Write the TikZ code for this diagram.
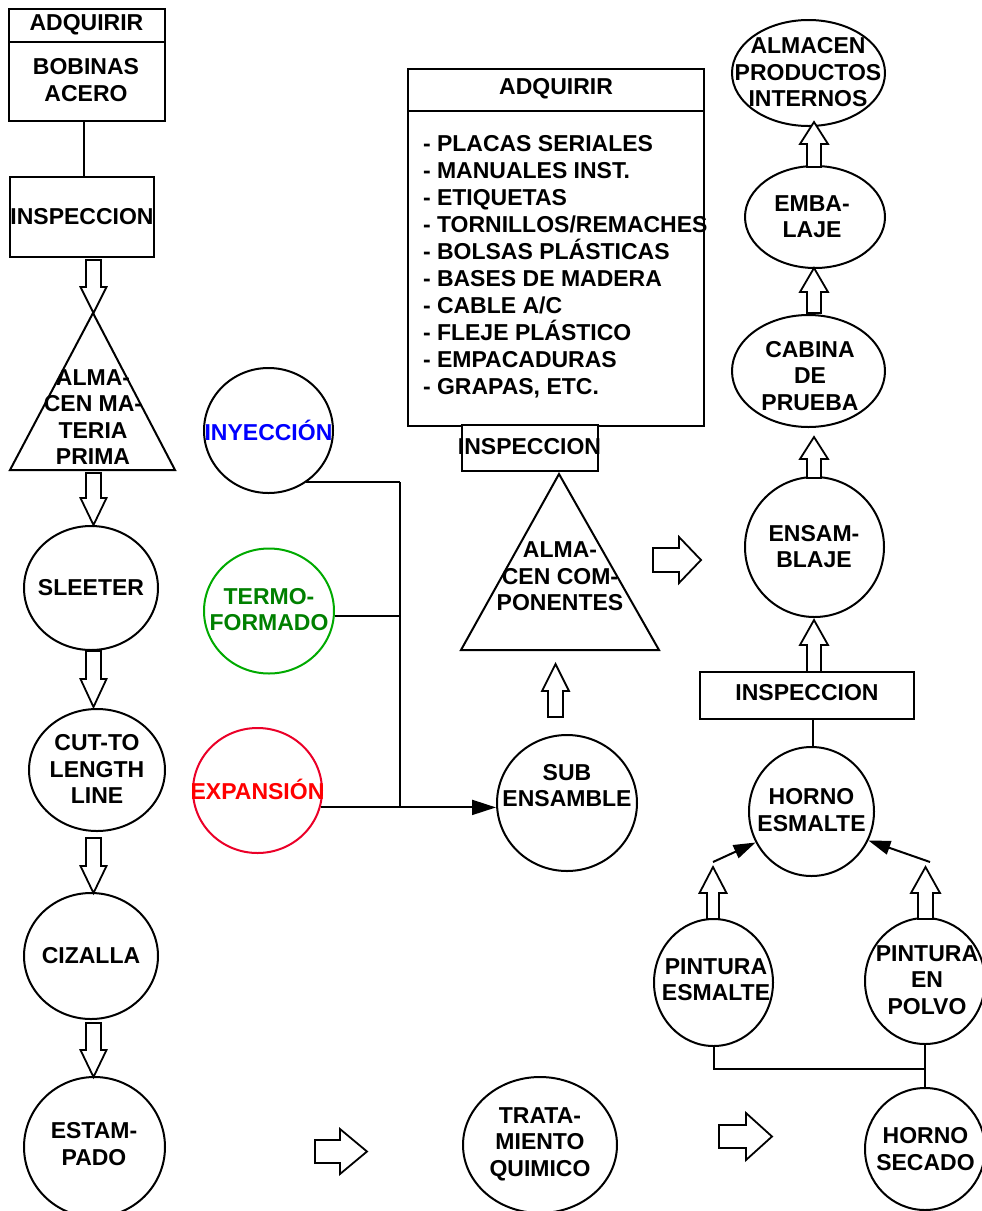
\documentclass[tikz,border=0pt]{standalone}
\usepackage{fontspec}
\setmainfont{Liberation Sans}
\usetikzlibrary{arrows.meta,shapes.geometric}
\definecolor{inyblue}{RGB}{0,0,255}
\definecolor{termotext}{RGB}{0,128,0}
\definecolor{termoline}{RGB}{0,170,0}
\definecolor{exptext}{RGB}{255,0,0}
\definecolor{expline}{RGB}{235,0,40}
\begin{document}
\begin{tikzpicture}[x=1pt,y=-1pt,line width=2pt,
  lbl/.style={font=\fontsize{23}{26.5}\selectfont\bfseries, align=center, inner sep=0pt},
  listlbl/.style={font=\fontsize{23}{27}\selectfont\bfseries, align=left, inner sep=0pt, anchor=west},
  ell/.style 2 args={draw, ellipse, inner sep=0pt, minimum width=#1, minimum height=#2},
  box/.style 2 args={draw, rectangle, inner sep=0pt, minimum width=#1, minimum height=#2},
  tip/.style={-{Triangle[length=24pt,width=15pt]}},
  pics/barrow/.style args={#1/#2/#3/#4}{code={
    \draw[line width=1.8pt, fill=white] (0,{-#2}) -- ({#1-#4},{-#2}) -- ({#1-#4},{-#3}) -- (#1,0)
      -- ({#1-#4},#3) -- ({#1-#4},#2) -- (0,#2) -- cycle;}}
]
\fill[white] (0,0) rectangle (982,1211);
\useasboundingbox (0,0) rectangle (982,1211);

% ---------- left column ----------
\node[box={156}{112}] (adq) at (86.5,64.5) {};
\draw (8.5,42) -- (164.5,42);
\node[lbl] (adqh) at (86.5,25) {ADQUIRIR};
\node[lbl] (adqt) at (86,80) {BOBINAS\\ACERO};

\node[box={144}{80}] (insp1) at (82,217) {};
\node[lbl] (insp1t) at (82,217) {INSPECCION};
\draw ([xshift=-2.5pt]adq.south) -- ([xshift=-2.5pt]adq.south |- insp1.north);

\coordinate (t1a) at (93,313);
\coordinate (t1b) at (175,470);
\coordinate (t1c) at (10,470);
\draw[line join=miter] (t1a) -- (t1b) -- (t1c) -- cycle;
\node[lbl] (t1t) at (93,417) {ALMA-\\CEN MA-\\TERIA\\PRIMA};

\node[ell={134}{124}] (sleeter) at (91,588) {};
\node[lbl] (sleetert) at (91,588) {SLEETER};
\node[ell={136}{122}] (cut) at (97,770) {};
\node[lbl] (cutt) at (97,769) {CUT-TO\\LENGTH\\LINE};
\node[ell={134}{126}] (ciz) at (91,956) {};
\node[lbl] (cizt) at (91,956) {CIZALLA};
\node[ell={141}{140}] (estam) at (94.5,1147) {};
\node[lbl] (estamt) at (94,1144) {ESTAM-\\PADO};

\pic[rotate=-90] at (93.5,260) {barrow=53/7.5/13/26};
\pic[rotate=-90] at (93.5,473) {barrow=52/7.5/13/27};
\pic[rotate=-90] at (93.5,651) {barrow=56/7.5/13/28};
\pic[rotate=-90] at (93.5,838) {barrow=55/7.5/13/27};
\pic[rotate=-90] at (93.5,1023) {barrow=54/7.5/13/27};

% ---------- middle column ----------
\node[ell={129}{125}] (iny) at (268.5,430.5) {};
\node[lbl, text=inyblue] (inyt) at (268.5,430) {INYECCIÓN};
\node[ell={130}{125}, draw=termoline] (termo) at (269,611) {};
\node[lbl, text=termotext] (termot) at (269,609.5) {TERMO-\\FORMADO};
\node[ell={129}{125}, draw=expline] (exp) at (257.5,790.5) {};
\node[lbl, text=exptext] (expt) at (257.5,789) {EXPANSIÓN};

\node[ell={140}{136}] (sub) at (567,803) {};
\node[lbl] (subt) at (567,785.5) {SUB\\ENSAMBLE};

\coordinate (bus) at (400,0);
\draw (iny.-54) -- (iny.-54 -| bus);
\draw (termo.-4) -- (termo.-4 -| bus);
\draw (iny.-54 -| bus) -- (exp.-15 -| bus);
\draw[tip] (exp.-15) -- (exp.-15 -| sub.west);

\node[box={296}{357}] (adq2) at (556,247.5) {};
\draw (408,111) -- (704,111);
\node[lbl] (adq2h) at (556,89) {ADQUIRIR};
\node[listlbl] (adq2l) at (422,266.5) {- PLACAS SERIALES\\- MANUALES INST.\\- ETIQUETAS\\- TORNILLOS/REMACHES\\- BOLSAS PLÁSTICAS\\- BASES DE MADERA\\- CABLE A/C\\- FLEJE PLÁSTICO\\- EMPACADURAS\\- GRAPAS, ETC.};

\node[box={136}{46}, fill=white] (insp2) at (530,448) {};
\node[lbl] (insp2t) at (529.5,447) {INSPECCION};

\coordinate (t2a) at (559,474);
\coordinate (t2b) at (659,650);
\coordinate (t2c) at (461,650);
\draw[line join=miter] (t2a) -- (t2b) -- (t2c) -- cycle;
\node[lbl] (t2t) at (560,576.5) {ALMA-\\CEN COM-\\PONENTES};

\pic[rotate=90] at (555.5,717) {barrow=53/7.5/13.5/27};
\pic at (653,560) {barrow=48/12/23/22};

\node[ell={154}{136}] (trat) at (540,1145) {};
\node[lbl] (tratt) at (540,1144) {TRATA-\\MIENTO\\QUIMICO};
\pic at (315,1151.5) {barrow=52/11.5/22.5/27};
\pic at (719,1136.5) {barrow=53/11.5/23.5/26};

% ---------- right column ----------
\node[ell={153}{106}] (alm) at (808.5,73) {};
\node[lbl] (almt) at (808,72.5) {ALMACEN\\PRODUCTOS\\INTERNOS};
\node[ell={140}{102}] (emba) at (815,217) {};
\node[lbl] (embat) at (812,216.5) {EMBA-\\LAJE};
\node[ell={153}{112}] (cab) at (808.5,371) {};
\node[lbl] (cabt) at (810,376) {CABINA\\DE\\PRUEBA};
\node[ell={139}{140}] (ensam) at (814.5,547) {};
\node[lbl] (ensamt) at (814,546.5) {ENSAM-\\BLAJE};

\pic[rotate=90] at (814,167) {barrow=45/7/14/22};
\pic[rotate=90] at (814,313) {barrow=45/7/14/24};
\pic[rotate=90] at (814,478) {barrow=41/7/14/22};
\pic[rotate=90] at (814,672) {barrow=52/7/14/25};

\node[box={214}{47}] (insp3) at (807,695.5) {};
\node[lbl] (insp3t) at (807,693) {INSPECCION};

\node[ell={125}{129}] (horno) at (811.5,811.5) {};
\node[lbl] (hornot) at (811.5,810) {HORNO\\ESMALTE};
\draw ([xshift=1.5pt]insp3.south -| horno.north) -- ([xshift=1.5pt]horno.north);

\coordinate (hl) at (713,862);
\coordinate (hr) at (930,862);
\draw[-{Triangle[length=22pt,width=14pt]}] (hl) -- (horno.-151);
\draw[-{Triangle[length=22pt,width=14pt]}] (hr) -- (horno.-27);

\node[ell={119}{127}] (pe) at (713.5,982.5) {};
\node[lbl] (pet) at (716,979.6) {PINTURA\\ESMALTE};
\node[ell={120}{126}] (pp) at (925,981) {};
\node[lbl] (ppt) at (927,980) {PINTURA\\EN\\POLVO};
\node[ell={120}{122}] (hs) at (925,1149) {};
\node[lbl] (hst) at (925.5,1149) {HORNO\\SECADO};

\pic[rotate=90] at (713,919) {barrow=52/6/13.5/26};
\pic[rotate=90] at (925.5,919) {barrow=52/7.5/14.5/26};

\coordinate (jn) at (925,1069);
\draw (pe.south) |- (jn);
\draw (pp.south) -- (pp.south |- hs.north);
\end{tikzpicture}
\end{document}
